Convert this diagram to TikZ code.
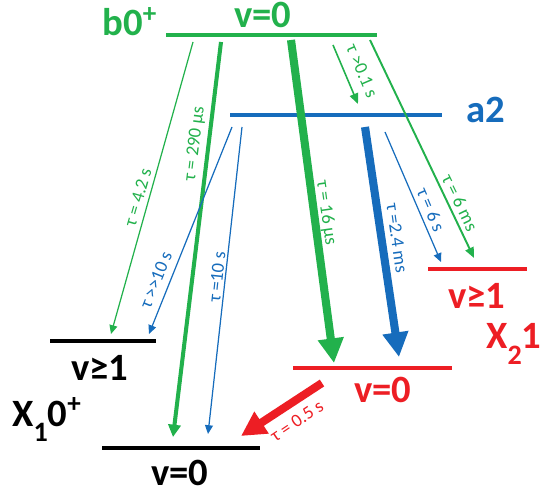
\documentclass[tikz,border=0pt]{standalone}
\usepackage{fontspec}
\setmainfont{Carlito}
\usetikzlibrary{arrows.meta}
\definecolor{gr}{RGB}{34,177,76}
\definecolor{bl}{RGB}{22,108,188}
\definecolor{rd}{RGB}{237,30,36}
\newcommand{\lowsub}[1]{\raisebox{-0.85ex}{\fontsize{16}{17}\selectfont #1}}
\tikzset{
  level/.style={line width=2.8pt},
  big/.style={font=\fontsize{22}{24}\selectfont\bfseries, inner sep=0pt},
  tau/.style={font=\fontsize{10.5}{12}\selectfont, inner sep=0pt},
  thinarr/.style={line width=0.7pt, -{Triangle[length=5pt,width=4.5pt]}},
  midarr/.style={line width=1.1pt, -{Triangle[length=6pt,width=5pt]}},
  medarr/.style={line width=2.3pt, -{Triangle[length=7pt,width=7pt]}},
  fatarr/.style={line width=4.6pt, -{Triangle[length=14pt,width=14pt]}},
}
\begin{document}
\begin{tikzpicture}[x=0.02cm,y=-0.02cm]
\useasboundingbox (0,0) rectangle (543,492);
% levels
\draw[level,gr] (166,35) -- (377,35);
\draw[level,bl] (230,115) -- (442,115);
\draw[level,rd] (428,269) -- (527,269);
\draw[level,rd] (293,368) -- (452,368);
\draw[level,black] (50,341) -- (156,341);
\draw[level,black] (102,448) -- (260,448);
% state labels
\node[big,gr] (lb) at (130,22) {b0\textsuperscript{+}};
\node[big,gr] (lbv) at (263,15) {v=0};
\node[big,bl] (la) at (486,110) {a2};
\node[big,rd,anchor=base] (lx2) at (514,349) {X\lowsub{2}1};
\node[big,rd] (lx2a) at (477,296) {v≥1};
\node[big,rd] (lx2b) at (383,390) {v=0};
\node[big,black,anchor=base] (lx1) at (47,426) {X\lowsub{1}0\textsuperscript{+}};
\node[big,black] (lx1a) at (100,368) {v≥1};
\node[big,black] (lx1b) at (180,473) {v=0};
% arrow end points
\coordinate (g1s) at (193,42); \coordinate (g1e) at (111,334);
\coordinate (g2s) at (221,42); \coordinate (g2e) at (173,437);
\coordinate (g3s) at (291,40); \coordinate (g3e) at (334,363);
\coordinate (g4s) at (333,45); \coordinate (g4e) at (358,104);
\coordinate (g5s) at (370,40); \coordinate (g5e) at (474,258);
\coordinate (b1s) at (232,127); \coordinate (b1e) at (149,334);
\coordinate (b2s) at (242,127); \coordinate (b2e) at (208,434);
\coordinate (b3s) at (365,127); \coordinate (b3e) at (399,357);
\coordinate (b4s) at (385,132); \coordinate (b4e) at (441,262);
\coordinate (r1s) at (322,383); \coordinate (r1e) at (241,436);
% arrows
\draw[thinarr,gr] (g1s) -- (g1e);
\draw[medarr,gr] (g2s) -- (g2e);
\draw[fatarr,gr] (g3s) -- (g3e);
\draw[midarr,gr,line width=0.9pt] (g4s) -- (g4e);
\draw[midarr,gr] (g5s) -- (g5e);
\draw[thinarr,bl] (b1s) -- (b1e);
\draw[thinarr,bl] (b2s) -- (b2e);
\draw[fatarr,bl] (b3s) -- (b3e);
\draw[thinarr,bl] (b4s) -- (b4e);
\draw[fatarr,rd] (r1s) -- (r1e);
% lifetime labels
\node[tau,gr,rotate=74] (t1) at (138,197) {τ = 4.2 s};
\node[tau,gr,rotate=83] (t2) at (195,144) {τ = 290 μs};
\node[tau,gr,rotate=-82] (t3) at (326,213) {τ = 16 μs};
\node[tau,gr,rotate=-67] (t4) at (362,71) {τ {>}0.1 s};
\node[tau,gr,rotate=-64] (t5) at (460,203) {τ = 6 ms};
\node[tau,bl,rotate=68] (t6) at (156,280) {τ {>}{>}10 s};
\node[tau,bl,rotate=84] (t7) at (217,277) {τ =10 s};
\node[tau,bl,rotate=-82] (t8) at (397,238) {τ =2.4 ms};
\node[tau,bl,rotate=-67] (t9) at (431,210) {τ = 6 s};
\node[tau,rd,rotate=34] (t10) at (297,421) {τ = 0.5 s};
\end{tikzpicture}
\end{document}
